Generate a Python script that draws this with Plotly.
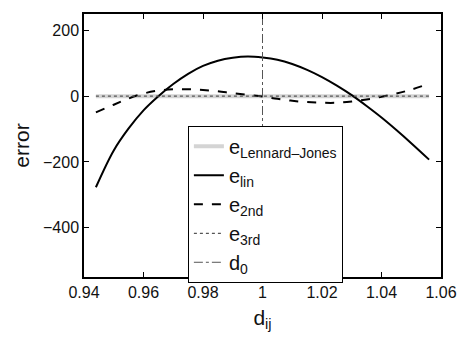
import plotly.graph_objects as go

d_vals = [0.944, 0.95, 0.955, 0.96, 0.965, 0.97, 0.975, 0.98, 0.985, 0.99, 0.995,
          1.0, 1.005, 1.01, 1.015, 1.02, 1.025, 1.03, 1.035, 1.04, 1.045, 1.05, 1.056]
e_lin = [-277, -165, -98, -43, 0, 37, 68, 92, 108, 117, 121,
         118, 111, 98, 80, 58, 32, 3, -30, -65, -103, -143, -193]
e_2nd = [-49, -26, -7, 8, 17, 21, 21, 19, 15, 9, 4,
         -1, -8, -14, -18, -20, -20, -16, -10, -2, 8, 20, 38]
e_lj = [0] * len(d_vals)
e_3rd = [0] * len(d_vals)
d0_x = [1.0, 1.0]
d0_y = [-550, 250]

x_ticks = [0.94, 0.96, 0.98, 1.0, 1.02, 1.04, 1.06]
x_tick_text = ["0.94", "0.96", "0.98", "1", "1.02", "1.04", "1.06"]
y_ticks = [-400, -200, 0, 200]
y_tick_text = ["\u2212400", "\u2212200", "0", "200"]

FONT = "Liberation Sans, Arial, sans-serif"

fig = go.Figure()
fig.add_trace(go.Scatter(x=d_vals, y=e_lj, mode="lines",
                         line=dict(color="#d4d4d4", width=4),
                         name="e<sub>Lennard\u2013Jones</sub>"))
fig.add_trace(go.Scatter(x=d_vals, y=e_lin, mode="lines", line_shape="spline",
                         line=dict(color="black", width=2),
                         name="e<sub>lin</sub>"))
fig.add_trace(go.Scatter(x=d_vals, y=e_2nd, mode="lines", line_shape="spline",
                         line=dict(color="black", width=2, dash="dash"),
                         name="e<sub>2nd</sub>"))
fig.add_trace(go.Scatter(x=d_vals, y=e_3rd, mode="lines",
                         line=dict(color="#555555", width=1.3, dash="dot"),
                         name="e<sub>3rd</sub>"))
fig.add_trace(go.Scatter(x=d0_x, y=d0_y, mode="lines",
                         line=dict(color="#555555", width=1, dash="dashdot"),
                         name="d<sub>0</sub>"))

fig.update_layout(
    width=469, height=338,
    margin=dict(l=84, r=21, t=12, b=51),
    paper_bgcolor="white", plot_bgcolor="white",
    font=dict(family=FONT, size=16, color="#111111"),
    showlegend=True,
    legend=dict(x=0.291, y=0.575, xanchor="left", yanchor="top",
                bgcolor="white", bordercolor="black", borderwidth=1,
                font=dict(family=FONT, size=20, color="#111111"),
                itemwidth=30, tracegroupgap=0),
    xaxis=dict(range=[0.94, 1.06], tickvals=x_ticks, ticktext=x_tick_text,
               ticks="inside", ticklen=5, tickcolor="black", tickwidth=1,
               showline=True, linecolor="black", linewidth=1.5, mirror="ticks",
               showgrid=False, zeroline=False,
               tickfont=dict(size=16),
               title=dict(text="d<sub>ij</sub>", font=dict(size=21), standoff=10)),
    yaxis=dict(range=[-550, 250], tickvals=y_ticks, ticktext=y_tick_text,
               ticks="inside", ticklen=5, tickcolor="black", tickwidth=1,
               showline=True, linecolor="black", linewidth=1.5, mirror="ticks",
               showgrid=False, zeroline=False,
               tickfont=dict(size=16),
               title=dict(text="error", font=dict(size=21), standoff=8)),
)

fig.write_html("out.html")
